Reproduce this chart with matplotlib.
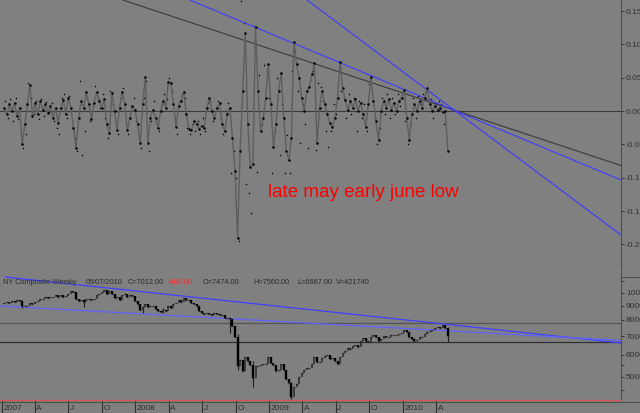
import numpy as np
import pandas as pd
import matplotlib
matplotlib.use('Agg')
import matplotlib.pyplot as plt
from matplotlib.ticker import NullFormatter

plt.rcParams['font.family'] = ['Liberation Sans', 'DejaVu Sans']

# weekly bars, drawn on the monday of each week (last one = week of 05/07/2010)
weeks = pd.date_range('2007-01-08', periods=174, freq='W-MON')

# NY Composite weekly closes
closes = [
    9200, 9250, 9200, 9350, 9300, 9400, 9350, 8950, 9000, 8950, 9200, 9150, 9250,
    9350, 9500, 9550, 9650, 9600, 9700, 9700, 9850, 9650, 9800, 9700, 9720, 9950,
    10150, 10050, 9500, 9350, 9450, 9300, 9500, 9550, 9400, 9550, 9850, 9900, 10100,
    10250, 9950, 10200, 9950, 9600, 9700, 9450, 9800, 9950, 9700, 9800, 9750,
    9350, 9150, 8700, 8900, 9150, 8900, 8950, 9000, 8750, 8600, 8550, 8700, 8650,
    8950, 8800, 9150, 9200, 9400, 9300, 9600, 9400, 9450, 9200, 9150, 8950, 8650,
    8500, 8400, 8450, 8400, 8350, 8450, 8400, 8350, 8350, 8100, 8150, 8050, 7600,
    6950, 5450, 5750, 5250, 5900, 5700, 5500, 4950, 5450, 5450, 5500, 5550, 5550,
    5900, 5600, 5500, 5250, 5300, 5550, 5300, 4900, 4750, 4250, 4600, 4700, 5000,
    5150, 5300, 5400, 5400, 5550, 5900, 5650, 5650, 5850, 5950, 6000, 5800, 5850,
    5700, 5550, 5900, 6100, 6200, 6350, 6300, 6450, 6500, 6400, 6750, 6900, 6750,
    6650, 6950, 7050, 6950, 6700, 6850, 7000, 6950, 6950, 7050, 7050, 7050, 7150,
    7200, 7350, 7250, 6950, 6850, 6750, 6800, 6950, 6950, 7150, 7250, 7300, 7350,
    7500, 7550, 7500, 7650, 7474, 7012,
]
first_open = 9150

# long tails that stand out on the chart
tail_weeks = ['2007-02-26', '2007-08-13', '2008-01-21', '2008-03-17', '2008-09-15',
              '2008-10-06', '2008-11-17', '2009-03-02', '2010-02-01', '2010-05-03']
tail_lows = [8850, 8900, 8450, 8450, 7200, 5300, 4600, 4180, 6700, 6667]
tail_highs = [9400, 9550, 9000, 8800, 8200, 7100, 5700, 4800, 6900, 7560]

# oscillator, one value a week
osc = [
    0.005, -0.005, 0.010, 0.000, 0.012, -0.008, 0.005, -0.050, -0.020, 0.010,
    0.039, -0.008, 0.012, -0.005, 0.015, 0.002, 0.010, -0.003, 0.008, -0.010,
    0.005, -0.018, 0.005, 0.016, -0.005, 0.020, 0.005, -0.025, -0.055, -0.010,
    0.015, 0.005, 0.028, 0.010, -0.012, 0.012, 0.028, 0.015, 0.005, 0.018,
    -0.020, -0.033, 0.027, 0.000, -0.028, 0.005, 0.029, 0.010, -0.029, -0.010,
    0.008, 0.002, -0.020, -0.048, 0.010, 0.051, -0.048, -0.010, 0.002, -0.010,
    -0.025, 0.000, 0.015, 0.005, 0.044, 0.042, 0.010, -0.024, 0.008, 0.015,
    0.029, -0.005, -0.027, -0.029, -0.015, -0.020, -0.027, -0.022, -0.025, 0.005,
    0.020, 0.000, -0.010, 0.005, 0.012, -0.020, -0.030, -0.005, 0.005, -0.040,
    -0.090, -0.190, -0.060, 0.030, 0.117, -0.020, -0.084, -0.080, 0.126, 0.030,
    -0.030, -0.010, 0.020, 0.070, 0.010, -0.054, -0.020, 0.030, 0.057, -0.010,
    -0.060, -0.073, -0.040, 0.104, 0.070, 0.050, 0.020, 0.000, 0.030, 0.036,
    0.055, 0.072, -0.048, 0.005, 0.030, 0.010, -0.005, -0.018, -0.024, -0.010,
    0.020, 0.074, 0.035, 0.016, 0.002, 0.015, 0.005, 0.018, 0.000, 0.012,
    -0.005, -0.024, 0.010, 0.051, 0.015, -0.015, -0.044, 0.000, 0.015, 0.005,
    0.018, 0.002, 0.012, 0.000, 0.015, 0.020, 0.032, -0.010, -0.044, -0.005,
    0.010, 0.000, 0.015, 0.005, 0.020, 0.035, 0.010, 0.000, 0.008, 0.002,
    0.005, -0.002, 0.000, -0.060,
]

# loose points scattered round the oscillator, midweek
dots = [
    0.015, -0.010, 0.018, -0.015, 0.020, -0.012, -0.030, -0.055, -0.035, 0.042,
    0.020, -0.005, 0.015, -0.012, 0.018, -0.008, 0.014, -0.002, 0.012, -0.015,
    -0.025, -0.035, 0.020, 0.025, -0.010, 0.022, -0.015, -0.040, -0.060, 0.045,
    -0.066, -0.030, 0.020, -0.015, 0.008, 0.037, 0.020, 0.005, 0.025, -0.010,
    -0.040, 0.030, 0.010, -0.020, -0.035, 0.020, 0.035, -0.020, -0.035, 0.000,
    0.020, -0.015, -0.040, -0.055, 0.020, 0.045, -0.060, -0.015, 0.015, -0.020,
    -0.030, 0.010, 0.025, 0.018, 0.050, 0.030, -0.010, -0.035, 0.015, 0.025,
    0.020, -0.025, -0.035, -0.020, -0.030, -0.015, -0.035, -0.010, -0.030, 0.012,
    0.015, -0.015, 0.005, 0.015, -0.010, -0.035, 0.000, 0.012, -0.093, -0.060,
    -0.100, -0.195, 0.165, 0.132, -0.110, -0.123, -0.153, 0.127, -0.092, 0.054,
    -0.020, 0.069, 0.060, 0.020, -0.093, -0.030, 0.050, -0.066, 0.010, -0.093,
    -0.036, -0.093, 0.060, 0.090, 0.030, -0.048, 0.010, -0.020, -0.055, 0.045,
    0.060, -0.058, 0.042, 0.036, 0.015, -0.030, -0.054, -0.030, 0.010, -0.005,
    0.060, 0.030, 0.020, -0.010, 0.025, -0.005, 0.020, -0.030, 0.015, -0.010,
    0.010, -0.030, 0.040, 0.030, -0.010, -0.050, -0.025, 0.020, -0.005, 0.025,
    -0.010, 0.020, -0.005, 0.025, 0.008, 0.028, -0.015, -0.050, -0.020, 0.020,
    -0.010, 0.022, 0.010, 0.025, 0.030, 0.015, 0.018, -0.010, 0.012, 0.015,
    0.010, -0.020, -0.030,
]
dot_weeks = weeks[:len(dots)] + pd.Timedelta(days=3)

# trend lines (start, end)
osc_dark_dates = ['2007-11-28', '2011-08-19']
osc_dark_vals = [0.1665, -0.0818]
osc_blue_a_dates = ['2008-05-29', '2011-08-19']
osc_blue_a_vals = [0.1665, -0.1035]
osc_blue_b_dates = ['2009-04-14', '2011-08-19']
osc_blue_b_vals = [0.1665, -0.186]
upper_dates = ['2007-01-10', '2011-08-19']
upper_vals = [11414, 6615]
lower_dates = ['2006-12-27', '2011-08-19']
lower_vals = [8981, 6756]
level_high = 7800
level_low = 6667

osc_ticks = [-0.20, -0.15, -0.10, -0.05, 0.00, 0.05, 0.10, 0.15]
price_ticks = [5000, 6000, 7000, 8000, 9000, 10000]
price_minor = [4500, 5500, 11000]
quarters = ['2007-01-01', '2007-04-01', '2007-07-01', '2007-10-01', '2008-01-01',
            '2008-04-01', '2008-07-01', '2008-10-01', '2009-01-01', '2009-04-01',
            '2009-07-01', '2009-10-01', '2010-01-01', '2010-04-01']
quarter_labels = ['2007', 'A', 'J', 'O', '2008', 'A', 'J', 'O', '2009', 'A', 'J', 'O',
                  '2010', 'A']

header = [('NY Composite-Weekly', 3, '#2a2a2a'), ('05/07/2010', 86, '#2a2a2a'),
          ('C=7012.00', 128, '#2a2a2a'), ('-462.00', 168, '#ff2a2a'),
          ('O=7474.00', 203, '#2a2a2a'), ('H=7560.00', 253, '#2a2a2a'),
          ('L=6667.00', 297, '#2a2a2a'), ('V=421740', 336, '#2a2a2a')]

W, H = 640, 413
bg = '#808080'
axis_col = '#505050'
xlim = (pd.Timestamp('2006-12-27 08:00'), pd.Timestamp('2011-08-19'))

fig = plt.figure(figsize=(W / 100, H / 100), dpi=100, facecolor=bg)
ax1 = fig.add_axes([0, (H - 270) / H, 621 / W, 270 / H], facecolor=bg)
ax2 = fig.add_axes([0, (H - 400) / H, 621 / W, 128 / H], facecolor=bg)

for ax in (ax1, ax2):
    ax.set_xlim(xlim)
    for s in ('top', 'left', 'bottom'):
        ax.spines[s].set_visible(False)
    ax.spines['right'].set_color(axis_col)
    ax.yaxis.tick_right()
    ax.tick_params(axis='y', which='both', direction='out', length=2.5, width=0.7,
                   colors='#303030', labelsize=6, pad=1)

# --- oscillator panel ---
ax1.set_ylim(-0.2385, 0.1665)
ax1.axhline(0, color='#3a3a3a', lw=0.8)
ax1.plot(pd.to_datetime(osc_dark_dates), osc_dark_vals, color='#3a3a3a', lw=0.8)
ax1.plot(pd.to_datetime(osc_blue_a_dates), osc_blue_a_vals, color='#3c3cff', lw=0.8)
ax1.plot(pd.to_datetime(osc_blue_b_dates), osc_blue_b_vals, color='#3c3cff', lw=0.8)
ax1.plot(weeks, osc, color='#5e5e5e', lw=1.0, marker='.', ms=1.6, mfc='black', mec='black')
ax1.scatter(dot_weeks, dots, s=1.2, color='black', lw=0)
ax1.set_yticks(osc_ticks, ['%.2f' % t for t in osc_ticks])
ax1.tick_params(axis='x', bottom=False, labelbottom=False)
ax1.text(pd.Timestamp('2008-12-28'), -0.129, 'late may early june low', color='#ff0000',
         fontsize=13.5, ha='left', va='baseline')

# --- price panel ---
ax2.set_yscale('log')
ax2.set_ylim(4130, 11895)
ax2.axhline(level_high, color='#555555', lw=0.9)
ax2.axhline(level_low, color='#303030', lw=0.9)
ax2.plot(pd.to_datetime(upper_dates), upper_vals, color='#4040ff', lw=0.9)
ax2.plot(pd.to_datetime(lower_dates), lower_vals, color='#6262ff', lw=0.9)

opens = [first_open] + closes[:-1]
down = [c < o for o, c in zip(opens, closes)]
up_w = [w for w, d in zip(weeks, down) if not d]
dn_w = [w for w, d in zip(weeks, down) if d]
ax2.vlines(pd.to_datetime(tail_weeks), tail_lows, tail_highs, color='#202020', lw=0.8)
ax2.vlines(up_w, [o for o, d in zip(opens, down) if not d],
           [c for c, d in zip(closes, down) if not d], color='#2a2a2a', lw=1.1)
ax2.vlines(dn_w, [o for o, d in zip(opens, down) if d],
           [c for c, d in zip(closes, down) if d], color='black', lw=1.7)
ax2.plot(weeks, closes, ls='none', marker='_', ms=1.8, mew=0.9, color='#2a2a2a')

ax2.set_yticks(price_ticks, [str(t) for t in price_ticks])
ax2.set_yticks(price_minor, minor=True)
ax2.yaxis.set_minor_formatter(NullFormatter())
ax2.spines['bottom'].set_visible(True)
ax2.spines['bottom'].set_color('#e05050')
ax2.set_xticks(pd.to_datetime(quarters), [''] * len(quarters))
ax2.tick_params(axis='x', direction='out', length=9, width=0.8, colors='#303030')
for d, lbl in zip(pd.to_datetime(quarters), quarter_labels):
    ax2.annotate(lbl, xy=(d, 0), xycoords=('data', 'axes fraction'), xytext=(1.5, -10.5),
                 textcoords='offset pixels', ha='left', va='baseline', fontsize=6,
                 color='#303030', annotation_clip=False)

# header line of the price panel
for txt, px, col in header:
    fig.text(px / W, (H - 284) / H, txt, color=col, fontsize=5.3, ha='left', va='baseline')

# separators outside the plot areas
fig.add_artist(plt.Line2D([621 / W, 1], [(H - 277) / H] * 2, color=axis_col, lw=0.8))
fig.add_artist(plt.Line2D([0, 1], [(H - 401.5) / H] * 2, color=axis_col, lw=0.8))

fig.savefig('out.png', dpi=100, facecolor=bg)
